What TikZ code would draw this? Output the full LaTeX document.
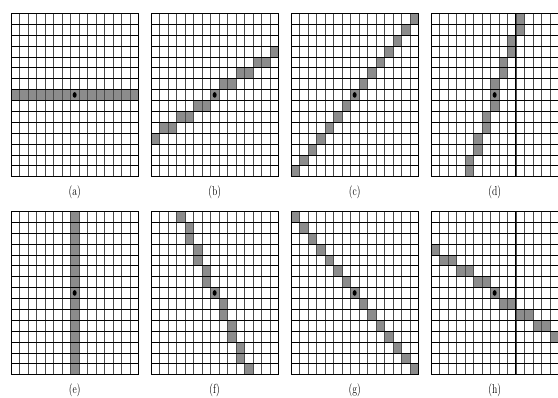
\documentclass[tikz,border=0pt]{standalone}
\usetikzlibrary{calc}
\begin{document}
\begin{tikzpicture}[x=1pt,y=-1pt,
  cellfill/.style={fill=black!45},
  hline/.style={draw=black,line width=0.55pt},
  vline/.style={draw=black!70,line width=0.55pt},
  frame/.style={draw=black,line width=0.6pt},
  seam/.style={draw=black,line width=1pt},
  lbl/.style={font=\fontsize{13}{14}\selectfont, inner sep=0pt}]
\useasboundingbox (0,0) rectangle (558,398);
\def\cw{8.487}
\def\ch{10.887}
\newcommand{\drawgrid}[4]{%
  \begin{scope}[shift={(#1,#2)}]
    \foreach \c/\r in {#3} \fill[cellfill] (\c*\cw,\r*\ch) rectangle ++(\cw,\ch);
    \foreach \i in {1,...,14} \draw[vline] (\i*\cw,0) -- (\i*\cw,15*\ch);
    \foreach \i in {1,...,14} \draw[hline] (0,\i*\ch) -- (15*\cw,\i*\ch);
    \draw[frame] (0,0) rectangle (15*\cw,15*\ch);
    \fill (7.5*\cw,7.5*\ch) ellipse [x radius=2pt, y radius=2.8pt];
    \node[lbl] (lab#4) at (7.5*\cw,15*\ch+15.5) {\scalebox{0.75}[1]{(#4)}};
  \end{scope}}
% row 1
\drawgrid{11}{13.3}{0/7,1/7,2/7,3/7,4/7,5/7,6/7,7/7,8/7,9/7,10/7,11/7,12/7,13/7,14/7}{a}
\drawgrid{151}{13.3}{14/3,12/4,13/4,10/5,11/5,8/6,9/6,7/7,5/8,6/8,3/9,4/9,1/10,2/10,0/11}{b}
\drawgrid{291}{13.3}{0/14,1/13,2/12,3/11,4/10,5/9,6/8,7/7,8/6,9/5,10/4,11/3,12/2,13/1,14/0}{c}
\drawgrid{431}{13.3}{10/0,10/1,9/2,9/3,8/4,8/5,7/6,7/7,7/8,6/9,6/10,5/11,5/12,4/13,4/14}{d}
% row 2
\drawgrid{11}{211.3}{7/0,7/1,7/2,7/3,7/4,7/5,7/6,7/7,7/8,7/9,7/10,7/11,7/12,7/13,7/14}{e}
\drawgrid{151}{211.3}{3/0,4/1,4/2,5/3,5/4,6/5,6/6,7/7,8/8,8/9,9/10,9/11,10/12,10/13,11/14}{f}
\drawgrid{291}{211.3}{0/0,1/1,2/2,3/3,4/4,5/5,6/6,7/7,8/8,9/9,10/10,11/11,12/12,13/13,14/14}{g}
\drawgrid{431}{211.3}{0/3,1/4,2/4,3/5,4/5,5/6,6/6,7/7,8/8,9/8,10/9,11/9,12/10,13/10,14/11}{h}
% darker seam lines in the right-hand grids
\draw[seam] (431+10*\cw,13.3) -- (431+10*\cw,13.3+15*\ch);
\draw[seam] (431+10*\cw,211.3) -- (431+10*\cw,211.3+15*\ch);
\end{tikzpicture}
\end{document}
